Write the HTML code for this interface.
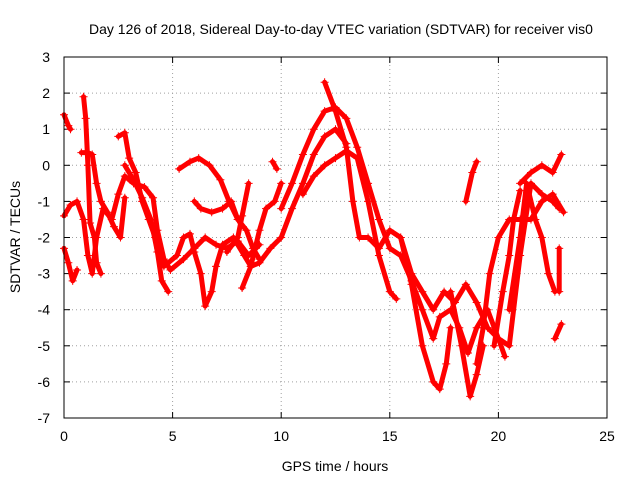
<!DOCTYPE html>
<html><head><meta charset="utf-8"><style>
body{margin:0;background:#fff;}
svg{display:block;font-family:"Liberation Sans",sans-serif;}
</style></head><body>
<svg id="chart" width="640" height="480">
<rect width="640" height="480" fill="#fff"/>
<text x="341" y="34" font-size="14" text-anchor="middle">Day 126 of 2018, Sidereal Day-to-day VTEC variation (SDTVAR) for receiver vis0</text>
<g id="grid"></g><g id="ticks"></g><g id="series"></g>
<rect x="64" y="57" width="543" height="361" fill="none" stroke="#000" stroke-width="1"/>
<text x="335" y="471" font-size="14" text-anchor="middle">GPS time / hours</text>
<text x="20" y="237" font-size="14" text-anchor="middle" transform="rotate(-90 20 237)">SDTVAR / TECUs</text>
</svg>
<script>
const xTicks=[0,5,10,15,20,25];
const yTicks=[3,2,1,0,-1,-2,-3,-4,-5,-6,-7];
const tracks=[
[[0,1.4],[0.2,1.1],[0.3,1.0]],
[[0,-1.4],[0.3,-1.1],[0.6,-1.0],[0.9,-1.5],[1.1,-2.5],[1.3,-3.0],[1.5,-2.0],[1.8,-1.2],[2.2,-1.5],[2.5,-0.8],[2.8,-0.3],[3.2,-0.5],[3.7,-0.6],[4.1,-0.9],[4.3,-1.8],[4.6,-2.6],[4.9,-2.9],[5.5,-2.6],[6.0,-2.3],[6.5,-2.0],[7.0,-2.2],[7.5,-2.3],[8.0,-2.1],[8.5,-2.5],[9.0,-2.2]],
[[0,-2.3],[0.2,-2.7],[0.4,-3.2],[0.6,-2.9]],
[[0.8,0.35],[1.1,0.35],[1.3,0.3],[1.5,-0.5],[1.7,-1.0],[2.0,-1.3],[2.3,-1.7],[2.6,-2.0],[2.8,-0.9]],
[[0.9,1.9],[1.0,1.3],[1.1,0.0],[1.2,-1.6],[1.4,-2.0],[1.5,-2.7],[1.7,-3.0]],
[[2.5,0.8],[2.8,0.9],[3.0,0.2],[3.3,-0.2],[3.6,-1.0],[3.9,-1.5],[4.2,-2.0],[4.5,-3.2],[4.8,-3.5]],
[[2.8,0.0],[3.2,-0.4],[3.6,-0.9],[4.0,-1.5],[4.3,-2.4],[4.6,-2.8],[5.2,-2.5],[5.5,-2.0],[5.8,-1.9],[6.0,-2.4],[6.3,-3.0],[6.5,-3.9],[6.8,-3.5],[7.0,-2.8],[7.3,-2.2],[7.8,-2.0],[8.3,-2.5],[8.6,-2.8],[9.0,-2.7],[9.5,-2.3],[10.0,-2.0],[10.5,-1.2],[11,-0.5],[11.5,0.3],[12,0.8],[12.5,1.0],[13,0.6]],
[[5.3,-0.1],[5.8,0.1],[6.2,0.2],[6.7,0.0],[7.2,-0.4],[7.6,-1.0],[8.0,-1.5],[8.4,-1.8],[8.7,-2.3],[9.0,-2.6]],
[[6.0,-1.0],[6.3,-1.2],[6.8,-1.3],[7.3,-1.2],[7.7,-1.0],[8.0,-1.5]],
[[7.5,-2.4],[8.0,-2.0],[8.2,-1.4],[8.5,-0.5]],
[[8.2,-3.4],[8.6,-2.8],[9.0,-1.8],[9.3,-1.2],[9.7,-1.0],[10,-0.5]],
[[9.6,0.1],[9.8,-0.1]],
[[10,-1.2],[10.5,-0.5],[11,0.3],[11.5,1.0],[12,1.5],[12.5,1.6],[13,1.3],[13.5,0.5],[14,-0.5],[14.5,-1.5],[15,-2.3],[15.5,-2.5],[16,-3.2],[16.5,-4.0],[17,-4.8],[17.3,-4.2],[17.8,-4.0],[18.2,-4.5],[18.6,-5.2],[19,-4.5],[19.5,-4.0],[20,-4.8],[20.5,-5.0],[21,-2.5],[21.5,-0.5],[22,-0.8],[22.5,-1.0],[22.8,-1.2]],
[[11,-0.8],[11.5,-0.3],[12,0.0],[12.5,0.2],[13,0.4],[13.5,0.2],[14,-1.0],[14.5,-2.5],[15,-3.5],[15.3,-3.7]],
[[12,2.3],[12.5,1.5],[13,0.5],[13.3,-1.0],[13.6,-2.0],[14.0,-2.0],[14.5,-2.3],[15,-1.8],[15.5,-2.0],[16,-3.0],[16.5,-3.5],[17,-4.0],[17.5,-3.5],[18,-3.8],[18.5,-3.3],[19,-3.8],[19.5,-4.5],[20,-4.8],[20.3,-5.3]],
[[15.5,-2.0],[16,-3.3],[16.5,-5.0],[17,-6.0],[17.3,-6.2],[17.6,-5.5],[17.8,-4.5]],
[[17.8,-3.5],[18.3,-5.0],[18.7,-6.4],[19,-5.8],[19.3,-5.0]],
[[18.5,-1.0],[18.8,-0.2],[19,0.1]],
[[19,-5.5],[19.3,-4.5],[19.6,-3.0],[20,-2.0],[20.5,-1.5],[21,-1.5],[21.5,-1.5],[22,-1.0],[22.5,-0.8],[23,-1.3]],
[[20.5,-4.0],[21,-2.0],[21.3,-0.5],[21.7,-1.5],[22,-2.0],[22.3,-3.0],[22.6,-3.5]],
[[21,-0.5],[21.5,-0.2],[22,0.0],[22.5,-0.2],[22.9,0.3]],
[[22.6,-4.8],[22.9,-4.4]],
[[19.8,-5.0],[20.2,-3.5],[20.5,-2.5],[20.7,-1.5],[21.0,-0.7]],
[[22.8,-2.3],[22.8,-3.5]]
];
const NS="http://www.w3.org/2000/svg";
const X0=64,X1=607,Y0=418,Y1=57,xmin=0,xmax=25,ymin=-7,ymax=3;
const sx=v=>X0+(v-xmin)/(xmax-xmin)*(X1-X0);
const sy=v=>Y0-(v-ymin)/(ymax-ymin)*(Y0-Y1);
function mk(tag,attrs,parent){const e=document.createElementNS(NS,tag);for(const k in attrs)e.setAttribute(k,attrs[k]);parent.appendChild(e);return e;}
const grid=document.getElementById('grid'),ticks=document.getElementById('ticks'),ser=document.getElementById('series');
xTicks.forEach(t=>{
 const x=sx(t);
 if(t>xmin&&t<xmax){const g=mk('line',{x1:x,x2:x,y1:Y0,y2:Y1,stroke:'#a0a0a0','stroke-dasharray':'1,3'},grid);
 
 }
 mk('line',{x1:x,x2:x,y1:Y0,y2:Y0-6,stroke:'#000'},ticks);
 mk('line',{x1:x,x2:x,y1:Y1,y2:Y1+6,stroke:'#000'},ticks);
 const l=mk('text',{x:x,y:Y0+23,'font-size':14,'text-anchor':'middle'},ticks);l.textContent=t;
 
 
});
yTicks.forEach(t=>{
 const y=sy(t);
 if(t>ymin&&t<ymax){const g=mk('line',{x1:X0,x2:X1,y1:y,y2:y,stroke:'#a0a0a0','stroke-dasharray':'1,3'},grid);
 
 }
 mk('line',{x1:X0,x2:X0+6,y1:y,y2:y,stroke:'#000'},ticks);
 mk('line',{x1:X1,x2:X1-6,y1:y,y2:y,stroke:'#000'},ticks);
 const l=mk('text',{x:50,y:y+5,'font-size':14,'text-anchor':'end'},ticks);l.textContent=t;
 
 
});
tracks.forEach((tr,i)=>{
 const pts=tr.map(p=>sx(p[0])+','+sy(p[1])).join(' ');
 const pl=mk('polyline',{points:pts,fill:'none',stroke:'#f00','stroke-width':5,'stroke-linejoin':'round','stroke-linecap':'round'},ser);
 
 
 tr.forEach(p=>{
  const x=sx(p[0]),y=sy(p[1]);
  const m=mk('path',{d:`M${x-4},${y}H${x+4}M${x},${y-4}V${y+4}`,stroke:'#f00','stroke-width':1},ser);
  
  
 });
});
</script>
</body></html>
